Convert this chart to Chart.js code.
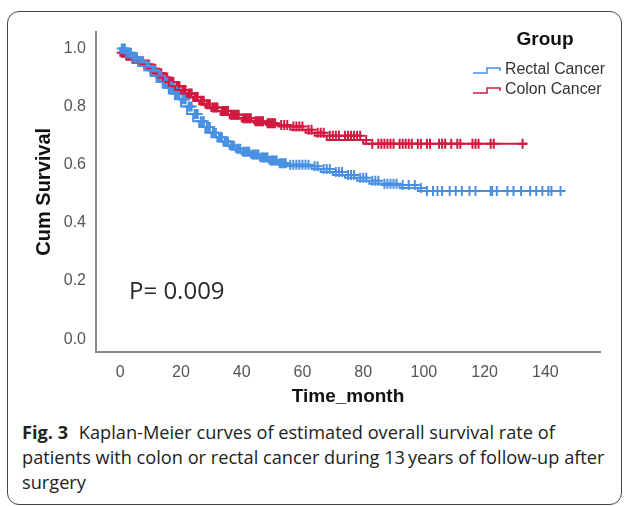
<!DOCTYPE html>
<html lang="en">
<head>
    <meta charset="UTF-8">
    <title>Kaplan-Meier curves</title>
    <script src="https://cdn.jsdelivr.net/npm/chart.js"></script>
    <style>
        body { margin: 0; background: #fff; width: 629px; height: 506px; position: relative; overflow: hidden; }
        #frame { position: absolute; left: 7px; top: 11px; width: 613px; height: 492px; border: 1px solid #444; border-radius: 12px; }
        #chartBox { position: absolute; left: 8px; top: 12px; width: 612px; height: 400px; }
        #caption { position: absolute; left: 22px; top: 420px; width: 605px; font-family: "Open Sans", sans-serif; font-size: 18.2px; line-height: 25px; color: #222; white-space: nowrap; }
        #caption b { font-weight: 700; margin-right: 6px; }
    </style>
</head>
<body>
    <div id="frame"></div>
    <div id="chartBox"><canvas id="kmChart" width="612" height="400"></canvas></div>
    <div id="caption"><b>Fig. 3</b> Kaplan-Meier curves of estimated overall survival rate of<br>patients with colon or rectal cancer during 13&thinsp;years of follow-up after<br>surgery</div>

    <script>
        // survival steps
        const rectalTimes = [0, 2, 4, 6, 8, 10, 12, 14, 16, 18, 20, 22, 24, 26, 28, 30, 32, 34, 36, 38, 40, 43, 46, 49, 52, 55, 63, 66, 70, 74, 78, 82, 86, 92, 98, 101, 146];
        const rectalSurv = [1.0, 0.985, 0.97, 0.955, 0.94, 0.925, 0.905, 0.885, 0.865, 0.845, 0.825, 0.80, 0.775, 0.75, 0.73, 0.71, 0.695, 0.68, 0.665, 0.655, 0.645, 0.635, 0.625, 0.615, 0.605, 0.60, 0.595, 0.585, 0.575, 0.565, 0.555, 0.545, 0.535, 0.53, 0.52, 0.51, 0.51];
        const colonTimes = [0, 2, 4, 6, 8, 10, 12, 14, 16, 18, 20, 22, 24, 26, 28, 30, 33, 36, 40, 44, 48, 52, 56, 61, 64, 68, 80, 82, 134];
        const colonSurv = [0.985, 0.975, 0.965, 0.955, 0.945, 0.93, 0.915, 0.90, 0.885, 0.87, 0.857, 0.845, 0.833, 0.82, 0.808, 0.797, 0.785, 0.772, 0.76, 0.75, 0.743, 0.737, 0.732, 0.72, 0.71, 0.70, 0.685, 0.672, 0.672];

        // censored cases (months)
        const rectalCensored = [0.5, 1, 1.5, 2, 2.5, 3, 3.5, 4, 4.5, 5, 5.5, 6, 6.5, 7, 7.5, 8, 8.5, 9, 9.5, 10, 10.5, 11, 11.5, 12, 12.5, 13, 13.5, 14, 14.5, 15, 15.5, 16, 16.5, 17, 17.5, 18, 18.5, 19, 19.5, 20.5, 21, 21.5, 22.5, 23, 23.5, 24.5, 25, 25.5, 26.5, 27, 27.5, 28.5, 29, 29.5, 30.5, 31, 31.5, 32.5, 33, 33.5, 34.5, 35, 35.5, 36.5, 37, 37.5, 38.5, 39, 39.5, 40.5, 41, 41.5, 42, 42.5, 43.5, 44, 44.5, 45, 45.5, 46.5, 47, 47.5, 48, 48.5, 49.5, 50, 50.5, 51, 51.5, 52.5, 53, 53.5, 54, 54.5, 56, 57, 58, 59, 60, 61, 62, 64, 65, 67, 68, 69, 71, 72, 73, 75, 76, 77, 79, 80, 81, 83, 84, 85, 87, 88, 89, 90, 91, 93, 95, 97, 99, 101, 103, 104.5, 106, 108.5, 110.5, 112.5, 115, 117, 122, 122.5, 124, 127.5, 129.5, 132, 135, 137, 139, 141, 142, 145];
        const colonCensored = [0.5, 1, 1.5, 2, 2.5, 3, 3.5, 4, 4.5, 5, 5.5, 6, 6.5, 7, 7.5, 8, 8.5, 9, 9.5, 10, 10.5, 11, 11.5, 12, 12.5, 13, 13.5, 14, 14.5, 15, 15.5, 16, 16.5, 17, 17.5, 18.5, 19, 19.5, 20.5, 21, 21.5, 22.5, 23, 23.5, 24.5, 25, 25.5, 26.5, 27, 27.5, 28.5, 29, 29.5, 30.5, 31, 31.5, 32, 33.5, 34, 34.5, 35, 35.5, 36.5, 37, 37.5, 38, 38.5, 39, 40.5, 41, 41.5, 42, 42.5, 43, 44.5, 45, 45.5, 46, 46.5, 47, 48.5, 49, 49.5, 50, 50.5, 51, 53, 54, 55, 57, 58, 59, 60, 62, 63, 65, 66, 67, 69, 70, 71, 72, 74, 75, 76, 77, 78, 79, 81, 83, 85, 86, 87, 88, 89, 90, 92, 93, 94, 95, 96, 98, 99, 101, 102, 105, 106, 107, 109, 111, 112, 116, 117, 118, 122, 123, 132.5];

        const xTicks = [0, 20, 40, 60, 80, 100, 120, 140];
        const yTicks = [0.0, 0.2, 0.4, 0.6, 0.8, 1.0];
        const groupNames = ['Rectal Cancer', 'Colon Cancer'];

        const blue = '#4a90e2';
        const red = '#d2193f';

        function stepPoints(times, surv) {
            return times.map((t, i) => ({ x: t, y: surv[i] }));
        }

        // censor mark sits on the curve at that time
        function censorPoints(cens, times, surv) {
            return cens.map(c => {
                let k = 0;
                for (let i = 0; i < times.length; i++) if (times[i] <= c) k = i;
                return { x: c, y: surv[k] };
            });
        }

        function drawStepIcon(ctx, x, y, color) {
            ctx.strokeStyle = color;
            ctx.lineWidth = 1.5;
            ctx.beginPath();
            ctx.moveTo(x, y + 3);
            ctx.lineTo(x + 14, y + 3);
            ctx.lineTo(x + 14, y - 2);
            ctx.lineTo(x + 27, y - 2);
            ctx.lineTo(x + 27, y + 1);
            ctx.stroke();
        }

        const annotations = {
            id: 'annotations',
            afterDraw(chart) {
                const ctx = chart.ctx;
                ctx.save();
                ctx.fillStyle = '#111';
                ctx.textAlign = 'center';
                ctx.textBaseline = 'middle';
                ctx.font = 'bold 19px "Liberation Sans", Arial, sans-serif';
                ctx.fillText('Group', 537, 28);

                ctx.textAlign = 'left';
                ctx.font = '15.8px "Liberation Sans", Arial, sans-serif';
                ctx.fillStyle = '#333';
                [blue, red].forEach((c, i) => {
                    const y = 58 + i * 20;
                    drawStepIcon(ctx, 465, y, c);
                    ctx.fillText(groupNames[i], 497, y);
                });

                ctx.fillStyle = '#2a2a2a';
                ctx.font = '24px "Open Sans", sans-serif';
                ctx.fillText('P= 0.009', 121, 280);
                ctx.restore();
            }
        };

        const ctx = document.getElementById('kmChart').getContext('2d');
        new Chart(ctx, {
            type: 'scatter',
            data: {
                datasets: [
                    {
                        label: groupNames[0],
                        type: 'line',
                        data: stepPoints(rectalTimes, rectalSurv),
                        stepped: 'after',
                        borderColor: blue,
                        borderWidth: 2,
                        pointRadius: 0,
                        fill: false
                    },
                    {
                        label: groupNames[1],
                        type: 'line',
                        data: stepPoints(colonTimes, colonSurv),
                        stepped: 'after',
                        borderColor: red,
                        borderWidth: 2,
                        pointRadius: 0,
                        fill: false
                    },
                    {
                        label: groupNames[0] + ' censored',
                        data: censorPoints(rectalCensored, rectalTimes, rectalSurv),
                        pointStyle: 'cross',
                        pointRadius: 5,
                        borderColor: blue,
                        borderWidth: 2
                    },
                    {
                        label: groupNames[1] + ' censored',
                        data: censorPoints(colonCensored, colonTimes, colonSurv),
                        pointStyle: 'cross',
                        pointRadius: 5,
                        borderColor: red,
                        borderWidth: 2
                    }
                ]
            },
            options: {
                responsive: false,
                animation: false,
                layout: { padding: { left: 0, right: 20, top: 17, bottom: 0 } },
                plugins: {
                    legend: { display: false },
                    tooltip: { enabled: false }
                },
                scales: {
                    x: {
                        type: 'linear',
                        min: -8,
                        max: 158,
                        afterBuildTicks: s => { s.ticks = xTicks.map(v => ({ value: v })); },
                        afterFit: s => { s.height = 60; },
                        grid: { display: false, drawTicks: false },
                        border: { display: true, color: '#8a8a8a', width: 2 },
                        ticks: {
                            padding: 11,
                            color: '#555',
                            font: { family: '"Liberation Sans", Arial, sans-serif', size: 16 }
                        },
                        title: {
                            display: true,
                            text: 'Time_month',
                            color: '#111',
                            padding: { top: 0, bottom: 4 },
                            font: { family: '"Liberation Sans", Arial, sans-serif', size: 19, weight: 'bold' }
                        }
                    },
                    y: {
                        type: 'linear',
                        min: -0.044,
                        max: 1.058,
                        afterBuildTicks: s => { s.ticks = yTicks.map(v => ({ value: v })); },
                        afterFit: s => { s.width = 88; },
                        grid: { display: false, drawTicks: false },
                        border: { display: true, color: '#8a8a8a', width: 2 },
                        ticks: {
                            padding: 10,
                            color: '#555',
                            font: { family: '"Liberation Sans", Arial, sans-serif', size: 16 },
                            callback: v => v.toFixed(1)
                        },
                        title: {
                            display: true,
                            text: 'Cum Survival',
                            color: '#111',
                            padding: { top: 24, bottom: 0 },
                            font: { family: '"Liberation Sans", Arial, sans-serif', size: 20, weight: 'bold' }
                        }
                    }
                }
            },
            plugins: [annotations]
        });
    </script>
</body>
</html>
